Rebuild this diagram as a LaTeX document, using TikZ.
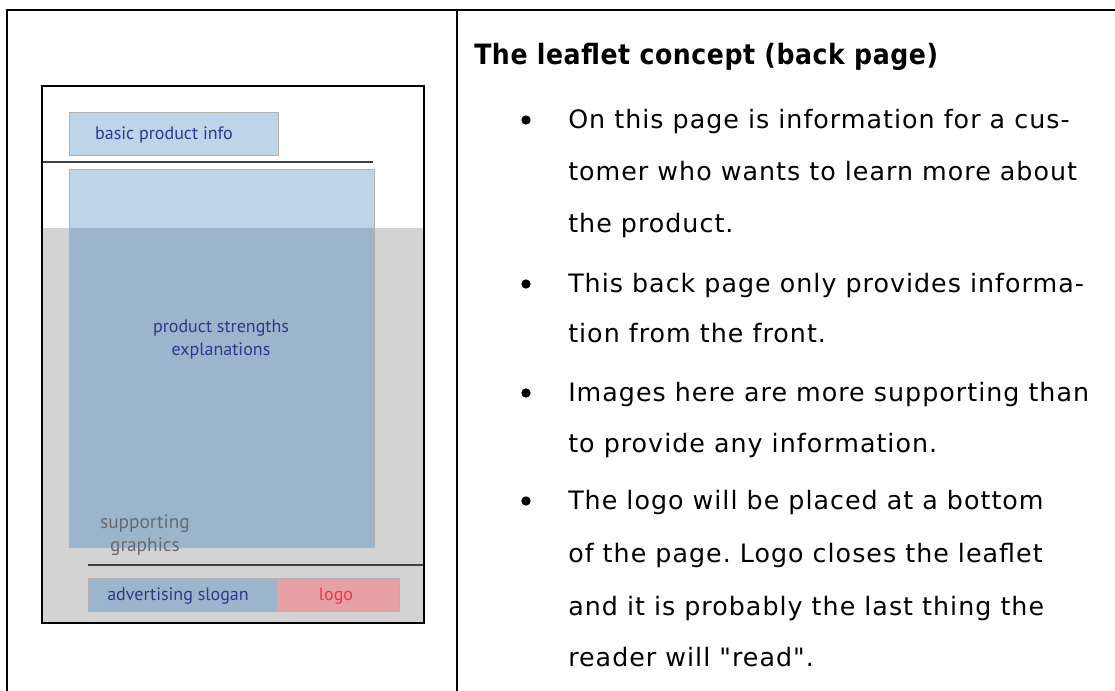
\documentclass[tikz,border=0pt]{standalone}
\usepackage{fontspec}
\setmainfont{DejaVu Sans}[LetterSpace=4,Ligatures=TeXOff]
\newfontfamily\headfont{DejaVu Sans Condensed}[LetterSpace=2]
\newfontfamily\sketchfont{PT Sans}
\frenchspacing
\definecolor{paleblue}{RGB}{188,213,233}
\definecolor{deepblue}{RGB}{155,182,204}
\definecolor{pagegrey}{RGB}{211,211,211}
\definecolor{inkblue}{RGB}{46,56,140}
\definecolor{logopink}{RGB}{230,160,166}
\definecolor{logored}{RGB}{232,56,78}
\definecolor{inkgrey}{RGB}{105,105,108}

\tikzset{
  rule/.style={line width=1.5pt},
  boxline/.style={draw=black!30,line width=0.6pt},
  sep/.style={draw=black!75,line width=1pt},
  lbl/.style={anchor=base,inner sep=0pt,text=inkblue,
    font=\sketchfont\fontsize{13.5}{16}\selectfont},
  note/.style={anchor=base west,inner sep=0pt,
    font=\fontsize{19}{22}\selectfont},
  bul/.style={circle,fill=black,inner sep=0pt,minimum size=7pt},
}

\begin{document}
\begin{tikzpicture}[x=0.75pt,y=-0.75pt]
\useasboundingbox (0,0) rectangle (1115,691);

% table rules
\draw[rule,line width=2pt] (6,10) -- (1115,10);
\draw[rule] (7,10) -- (7,691);
\draw[rule] (457,10) -- (457,691);

% the back page sketch
\fill[pagegrey] (43,228) rectangle (423,622);
\fill[paleblue] (69,169) rectangle (374,228);
\fill[deepblue] (69,228) rectangle (374,547);
\draw[boxline] (69,169) rectangle (374,547);
\draw[boxline,fill=paleblue] (69,112) rectangle (278,155);
\draw[boxline,fill=deepblue] (88,578) rectangle (277,611);
\draw[boxline,fill=logopink] (277,578) rectangle (399,611);
\draw[sep] (43,162) -- (373,162);
\draw[sep] (88,565) -- (423,565);
\draw[line width=2pt] (42,86) rectangle (424,623);

\node[lbl] (info) at (164,140) {basic product info};
\node[lbl] (str1) at (221,333) {product strengths};
\node[lbl] (str2) at (221,356) {explanations};
\node[lbl,text=inkgrey,font=\sketchfont\fontsize{14.5}{16}\selectfont] (gfx1) at (145,529) {supporting};
\node[lbl,text=inkgrey,font=\sketchfont\fontsize{14.5}{16}\selectfont] (gfx2) at (145,552) {graphics};
\node[lbl] (slogan) at (178,601) {advertising slogan};
\node[lbl,text=logored] (logo) at (336,601) {logo};

% notes on the right
\node[note,font=\headfont\bfseries\fontsize{21}{24}\selectfont] (title) at (474,65) {The leaflet concept (back page)};
\node[bul] (ba) at (526,120) {};
\node[note] (a1) at (568,129) {On this page is information for a cus-};
\node[note] (a2) at (568,181) {tomer who wants to learn more about};
\node[note] (a3) at (568,233) {the product.};
\node[bul] (bb) at (526,284) {};
\node[note] (b1) at (568,293) {This back page only provides informa-};
\node[note] (b2) at (568,343) {tion from the front.};
\node[bul] (bc) at (526,393) {};
\node[note] (c1) at (568,402) {Images here are more supporting than};
\node[note] (c2) at (568,453) {to provide any information.};
\node[bul] (bd) at (526,501) {};
\node[note] (d1) at (568,510) {The logo will be placed at a bottom};
\node[note] (d2) at (568,563) {of the page. Logo closes the leaflet};
\node[note] (d3) at (568,616) {and it is probably the last thing the};
\node[note] (d4) at (568,667) {reader will "read".};
\end{tikzpicture}
\end{document}
